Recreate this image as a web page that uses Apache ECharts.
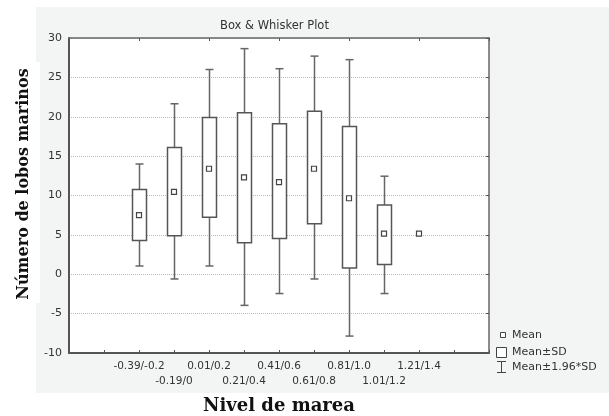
<!DOCTYPE html>
<html style="height: 100%">
<head>
<meta charset="utf-8">
</head>
<body style="height: 100%; margin: 0; background: #fff">
<div id="container" style="width: 609px; height: 416px"></div>
<script type="text/javascript" src="https://cdn.jsdelivr.net/npm/echarts@6.0.0/dist/echarts.min.js"></script>
<script type="text/javascript">
// values
var categories = ['-0.39/-0.2', '-0.19/0', '0.01/0.2', '0.21/0.4', '0.41/0.6', '0.61/0.8', '0.81/1.0', '1.01/1.2', '1.21/1.4'];
var means  = [7.5, 10.45, 13.4, 12.3, 11.7, 13.4, 9.65, 5.15, 5.15];
var sdLow  = [4.3, 4.9, 7.25, 4.0, 4.55, 6.4, 0.8, 1.25, null];
var sdHigh = [10.75, 16.1, 19.9, 20.5, 19.1, 20.7, 18.75, 8.8, null];
var ciLow  = [1.05, -0.6, 1.05, -3.95, -2.45, -0.6, -7.85, -2.45, null];
var ciHigh = [14.0, 21.65, 26.0, 28.65, 26.1, 27.7, 27.25, 12.45, null];
var yTicks = { min: -10, max: 30, interval: 5 };

// two empty slots each side so boxes sit where the original has them
var pad = 2;
var axisData = ['', ''].concat(categories, [' ', ' ']);

var meanData = [], boxData = [], whiskerData = [];
categories.forEach(function (c, i) {
    meanData.push([i + pad, means[i]]);
    if (sdLow[i] != null) boxData.push([i + pad, sdLow[i], sdHigh[i]]);
    if (ciLow[i] != null) whiskerData.push([i + pad, ciLow[i], ciHigh[i]]);
});

var LINE = '#666';
var BOX = '#555';
var sans = 'DejaVu Sans';
var serif = 'DejaVu Serif';

function renderWhisker(params, api) {
    var x = api.value(0);
    var lo = api.coord([x, api.value(1)]);
    var hi = api.coord([x, api.value(2)]);
    var cx = Math.round(lo[0]) + 0.5;
    var cap = 4;
    var st = { stroke: LINE, lineWidth: 1.5 };
    return {
        type: 'group',
        children: [
            { type: 'line', shape: { x1: cx, y1: lo[1], x2: cx, y2: hi[1] }, style: st },
            { type: 'line', shape: { x1: cx - cap, y1: lo[1], x2: cx + cap, y2: lo[1] }, style: st },
            { type: 'line', shape: { x1: cx - cap, y1: hi[1], x2: cx + cap, y2: hi[1] }, style: st }
        ]
    };
}

function renderBox(params, api) {
    var x = api.value(0);
    var lo = api.coord([x, api.value(1)]);
    var hi = api.coord([x, api.value(2)]);
    var cx = Math.round(lo[0]) + 0.5;
    var w = 14;
    return {
        type: 'rect',
        shape: { x: cx - w / 2, y: hi[1], width: w, height: lo[1] - hi[1] },
        style: { fill: '#fff', stroke: BOX, lineWidth: 1.5 }
    };
}

var dom = document.getElementById('container');
var myChart = echarts.init(dom, null, { renderer: 'canvas' });

var option = {
    backgroundColor: '#fff',
    animation: false,
    title: {
        text: 'Box & Whisker Plot',
        left: 215,
        top: 15,
        textStyle: { fontFamily: sans, fontSize: 11.5, fontWeight: 'normal', color: '#333' }
    },
    grid: {
        left: 69, right: 120, top: 38, bottom: 63,
        show: true, backgroundColor: '#fff', borderWidth: 0
    },
    xAxis: [{
        type: 'category',
        data: axisData,
        boundaryGap: false,
        position: 'bottom',
        axisLine: { onZero: false, lineStyle: { color: '#555', width: 2 } },
        axisTick: { inside: true, length: 3, lineStyle: { color: '#555' } },
        axisLabel: {
            interval: 0,
            margin: 6,
            fontFamily: sans,
            fontSize: 10.5,
            color: '#333',
            lineHeight: 15,
            verticalAlign: 'top',
            formatter: function (v, idx) { return idx % 2 === 1 ? '\n' + v : v; }
        },
        splitLine: { show: false }
    }, {
        type: 'category',
        data: axisData,
        boundaryGap: false,
        position: 'top',
        axisLine: { onZero: false, lineStyle: { color: '#666', width: 1.5 } },
        axisTick: { inside: true, length: 3, lineStyle: { color: '#555' } },
        axisLabel: { show: false },
        splitLine: { show: false }
    }],
    yAxis: [{
        type: 'value',
        min: yTicks.min, max: yTicks.max, interval: yTicks.interval,
        position: 'left',
        axisLine: { show: true, onZero: false, lineStyle: { color: '#555', width: 2 } },
        axisTick: { show: false },
        axisLabel: { margin: 7, fontFamily: sans, fontSize: 11, color: '#333' },
        splitLine: { show: true, lineStyle: { type: 'dotted', color: '#bbb', width: 1 } }
    }, {
        type: 'value',
        min: yTicks.min, max: yTicks.max, interval: yTicks.interval,
        position: 'right',
        axisLine: { show: true, onZero: false, lineStyle: { color: '#666', width: 1.5 } },
        axisTick: { show: true, inside: true, length: 3, lineStyle: { color: '#555' } },
        axisLabel: { show: false },
        splitLine: { show: false }
    }],
    series: [{
        name: 'Mean±1.96*SD',
        type: 'custom',
        renderItem: renderWhisker,
        encode: { x: 0, y: [1, 2] },
        data: whiskerData,
        z: 2
    }, {
        name: 'Mean±SD',
        type: 'custom',
        renderItem: renderBox,
        encode: { x: 0, y: [1, 2] },
        data: boxData,
        z: 3
    }, {
        name: 'Mean',
        type: 'scatter',
        symbol: 'rect',
        symbolSize: 5,
        itemStyle: { color: '#fff', borderColor: '#444', borderWidth: 1.2, opacity: 1 },
        data: meanData,
        z: 4
    }],
    graphic: [
        // grey panel behind the plot, like the original export
        { type: 'rect', z: -10, silent: true, shape: { x: 36, y: 7, width: 573, height: 386 }, style: { fill: '#f3f4f4' } },
        { type: 'rect', z: -9, silent: true, shape: { x: 0, y: 62, width: 40, height: 241 }, style: { fill: '#fff' } },
        {
            type: 'text', x: 24, y: 184, rotation: Math.PI / 2, z: 10,
            style: { text: 'Número de lobos marinos', fill: '#111', font: 'bold 16px "' + serif + '"', textAlign: 'center', textVerticalAlign: 'middle' }
        },
        {
            type: 'text', x: 279, y: 406, z: 10,
            style: { text: 'Nivel de marea', fill: '#111', font: 'bold 18px "' + serif + '"', textAlign: 'center', textVerticalAlign: 'middle' }
        },
        // legend
        { type: 'rect', z: 10, shape: { x: 500.5, y: 332.5, width: 5, height: 5 }, style: { fill: '#fff', stroke: '#444', lineWidth: 1 } },
        { type: 'text', x: 512, y: 335, z: 10, style: { text: 'Mean', fill: '#333', font: '11px "' + sans + '"', textVerticalAlign: 'middle' } },
        { type: 'rect', z: 10, shape: { x: 496.5, y: 347.5, width: 10, height: 10 }, style: { fill: '#fff', stroke: '#444', lineWidth: 1 } },
        { type: 'text', x: 512, y: 352, z: 10, style: { text: 'Mean±SD', fill: '#333', font: '11px "' + sans + '"', textVerticalAlign: 'middle' } },
        { type: 'line', z: 10, shape: { x1: 501.5, y1: 361, x2: 501.5, y2: 373 }, style: { stroke: '#444', lineWidth: 1 } },
        { type: 'line', z: 10, shape: { x1: 497, y1: 361.5, x2: 506, y2: 361.5 }, style: { stroke: '#444', lineWidth: 1 } },
        { type: 'line', z: 10, shape: { x1: 497, y1: 372.5, x2: 506, y2: 372.5 }, style: { stroke: '#444', lineWidth: 1 } },
        { type: 'text', x: 512, y: 367, z: 10, style: { text: 'Mean±1.96*SD', fill: '#333', font: '11px "' + sans + '"', textVerticalAlign: 'middle' } }
    ]
};

myChart.setOption(option);
</script>
</body>
</html>
